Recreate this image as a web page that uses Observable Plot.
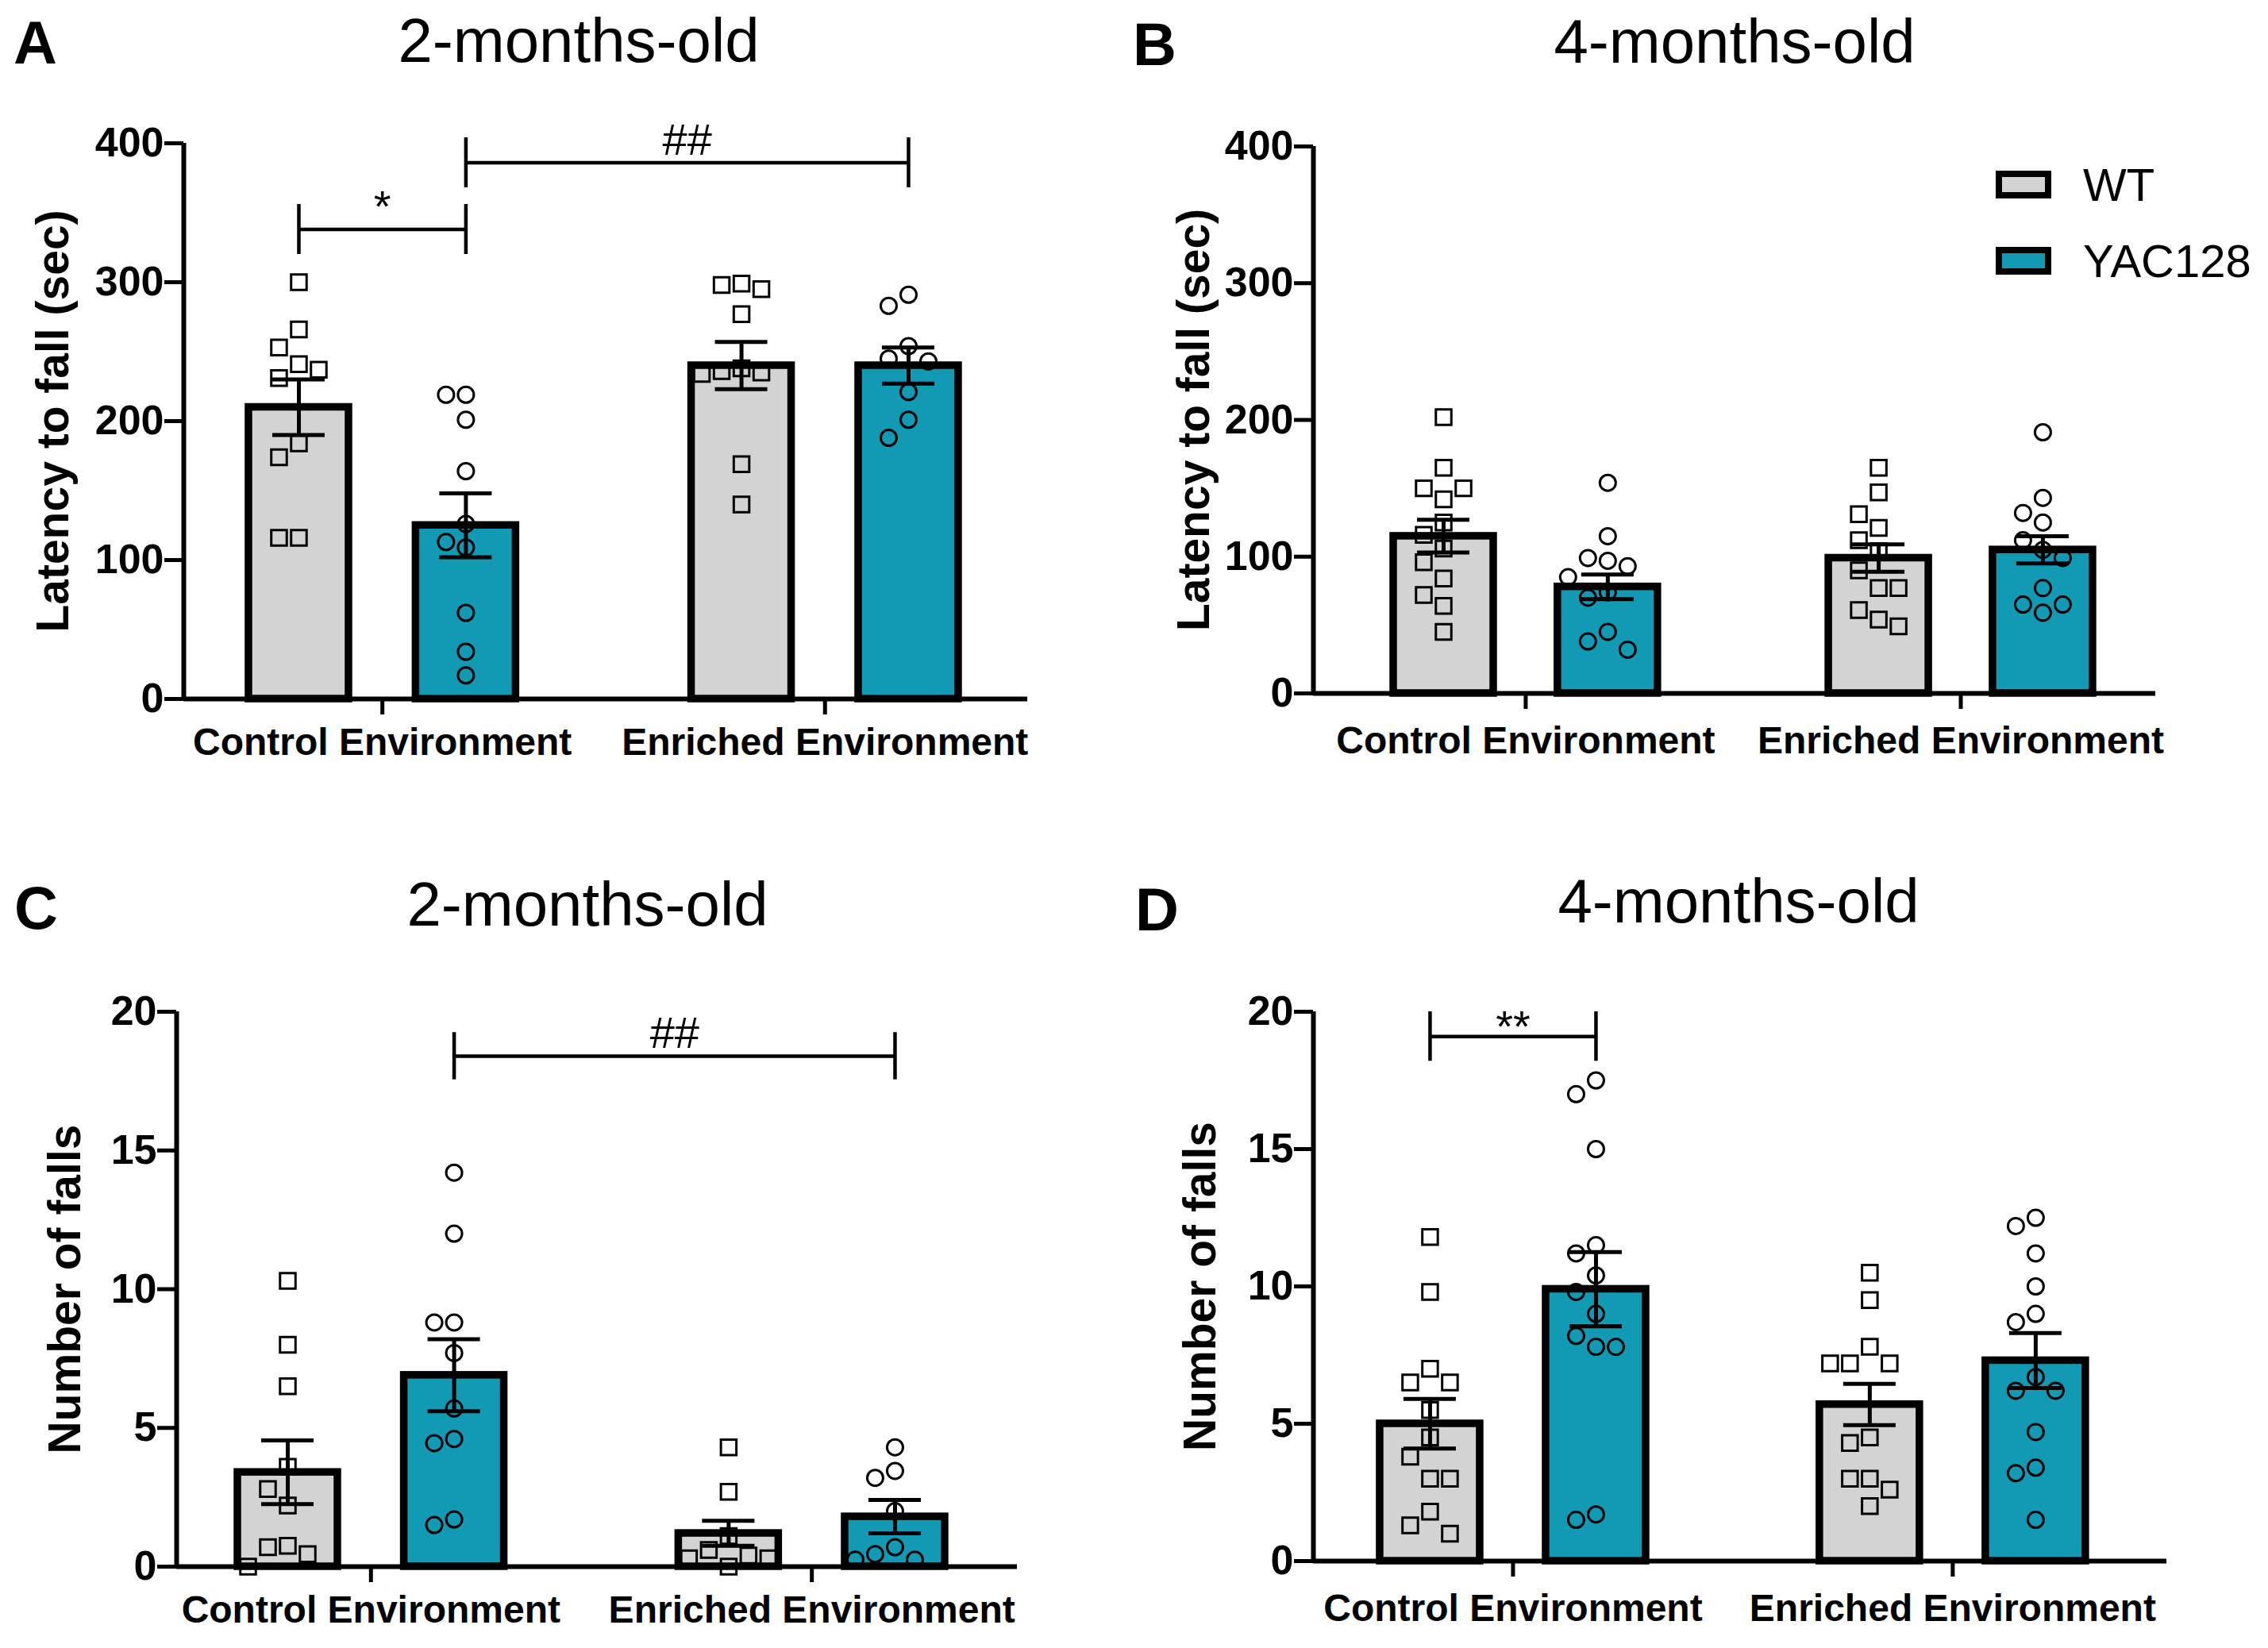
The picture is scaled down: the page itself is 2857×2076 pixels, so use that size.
<!DOCTYPE html>
<html>
<head>
<meta charset="utf-8">
<script src="https://cdn.jsdelivr.net/npm/d3@7"></script>
<script src="https://cdn.jsdelivr.net/npm/@observablehq/plot@0.6"></script>
<style>
html, body { margin: 0; padding: 0; background: #fff; }
#root { position: relative; width: 2857px; height: 2076px; font-family: "Liberation Sans", Arial, sans-serif; color: #000; }
.abs { position: absolute; }
.letter { font-weight: bold; font-size: 76px; line-height: 1; }
.title { font-size: 78px; line-height: 1; transform: translateX(-50%); white-space: nowrap; }
.legbox { position: absolute; width: 54px; height: 19px; border: 8px solid #000; }
.legtxt { position: absolute; font-size: 58px; line-height: 1; white-space: nowrap; }
</style>
</head>
<body>
<div id="root"></div>
<script>
// ---------- data ----------
const groups = ["Control Environment", "Enriched Environment"];
const genotypes = ["WT", "YAC128"];
const genotypeColors = ["#d3d3d3", "#129ab4"];

// Panel A: latency to fall (sec), 2-months-old
const aWtCtrl = [300, 266, 253, 241, 237, 231, 184, 174, 116, 116];
const aYacCtrl = [219, 219, 201, 164, 126, 113, 109, 62, 34, 17];
const aWtEnr = [299, 298, 295, 277, 238, 236, 235, 234, 169, 140];
const aYacEnr = [291, 283, 254, 245, 243, 221, 201, 188];
const aMean = [210, 125, 240, 240];
const aSem = [20, 23, 17, 13];
const aBrackets = [
  {from: 0, to: 1, y: 338, label: "*"},
  {from: 1, to: 3, y: 386, label: "##"}
];

// Panel B: latency to fall (sec), 4-months-old
const bWtCtrl = [202, 165, 150, 150, 142, 125, 116, 106, 96, 84, 72, 64, 45];
const bYacCtrl = [154, 115, 99, 97, 93, 85, 74, 70, 45, 38, 32];
const bWtEnr = [165, 147, 131, 121, 112, 104, 90, 77, 77, 61, 54, 49];
const bYacEnr = [191, 143, 132, 125, 112, 105, 99, 77, 65, 65, 59];
const bMean = [115, 78, 99, 105];
const bSem = [12, 9, 10, 10];
const bBrackets = [];

// Panel C: number of falls, 2-months-old
const cWtCtrl = [10.3, 8.0, 6.5, 3.6, 2.8, 2.2, 0.75, 0.7, 0.45, 0];
const cYacCtrl = [14.2, 12.0, 8.8, 8.8, 7.7, 5.7, 4.6, 4.45, 1.7, 1.5];
const cWtEnr = [4.3, 2.7, 1.1, 0.6, 0.4, 0.3, 0.3, 0];
const cYacEnr = [4.3, 3.45, 3.2, 2.0, 0.7, 0.45, 0.25, 0.25];
const cMean = [3.4, 6.9, 1.2, 1.8];
const cSem = [1.15, 1.3, 0.45, 0.6];
const cBrackets = [{from: 1, to: 3, y: 18.4, label: "##"}];

// Panel D: number of falls, 4-months-old
const dWtCtrl = [11.8, 9.8, 7.0, 6.5, 6.5, 5.5, 4.5, 3.8, 3.0, 3.0, 1.8, 1.3, 1.0];
const dYacCtrl = [17.5, 17.0, 15.0, 11.5, 11.2, 10.4, 9.8, 9.0, 8.2, 7.8, 7.8, 1.7, 1.5];
const dWtEnr = [10.5, 9.5, 7.8, 7.2, 7.2, 7.2, 4.5, 4.3, 3.0, 3.0, 2.6, 2.0];
const dYacEnr = [12.5, 12.2, 11.2, 10.0, 9.0, 8.7, 6.7, 6.2, 6.2, 4.7, 3.4, 3.2, 1.5];
const dMean = [5.0, 9.9, 5.7, 7.3];
const dSem = [0.9, 1.35, 0.75, 1.0];
const dBrackets = [{from: 0, to: 1, y: 19.1, label: "**"}];

const latencyTicks = [0, 100, 200, 300, 400];
const fallsTicks = [0, 5, 10, 15, 20];

// ---------- drawing ----------
const G = 2.65; // position of the second group (in bar slots)
const FONT = "'Liberation Sans', Arial, Helvetica, sans-serif";

function buildPanel(o) {
  const innerW = o.width - o.ml - o.mr;
  const innerH = o.height - o.mt - o.mb;
  const kx = innerW / (o.xDomain[1] - o.xDomain[0]);
  const ky = innerH / o.yMax;
  const slots = [0, 1, G, G + 1];
  const hw = 63 / kx, cw = 33 / kx;
  const bars = o.means.map((m, i) => ({s: slots[i], mean: m, sem: o.sems[i], kind: genotypes[i % 2]}));
  const dots = [];
  o.points.forEach((arr, i) => {
    const placed = [];
    [...arr].sort((a, b) => b - a).forEach(v => {
      let off = 0;
      for (const c of [0, -1, 1, -2, 2, -3, 3, -4, 4]) {
        if (placed.every(p => p.off !== c || Math.abs(p.v - v) * ky >= 29)) { off = c; break; }
      }
      placed.push({v, off});
      dots.push({x: slots[i] + off * 25 / kx, y: v, kind: genotypes[i % 2]});
    });
  });
  const groupCenters = [0.5, G + 0.5];
  const tickLabel = new Map(groupCenters.map((c, i) => [c, groups[i]]));
  const half = o.bracketHalf;
  const svg = Plot.plot({
    width: o.width, height: o.height,
    marginLeft: o.ml, marginRight: o.mr, marginTop: o.mt, marginBottom: o.mb,
    style: `font-family: ${FONT}; background: transparent; overflow: visible;`,
    x: {domain: o.xDomain, axis: null},
    y: {domain: [0, o.yMax], axis: null},
    color: {domain: genotypes, range: genotypeColors},
    marks: [
      Plot.rectY(bars, {x1: d => d.s - hw, x2: d => d.s + hw, y1: 0, y2: "mean", fill: "kind", stroke: "black", strokeWidth: 9.5}),
      Plot.dot(dots.filter(d => d.kind === "WT"), {x: "x", y: "y", symbol: "square", r: 11, fill: "none", stroke: "black", strokeWidth: 3}),
      Plot.dot(dots.filter(d => d.kind !== "WT"), {x: "x", y: "y", symbol: "circle", r: 10, fill: "none", stroke: "black", strokeWidth: 3}),
      Plot.ruleX(bars, {x: "s", y1: d => d.mean - d.sem, y2: d => d.mean + d.sem, stroke: "black", strokeWidth: 5}),
      Plot.ruleY(bars, {y: d => d.mean + d.sem, x1: d => d.s - cw, x2: d => d.s + cw, stroke: "black", strokeWidth: 5}),
      Plot.ruleY(bars, {y: d => d.mean - d.sem, x1: d => d.s - cw, x2: d => d.s + cw, stroke: "black", strokeWidth: 5}),
      // significance brackets
      Plot.ruleY(o.brackets, {y: "y", x1: d => slots[d.from], x2: d => slots[d.to], stroke: "black", strokeWidth: 4.5}),
      Plot.ruleX(o.brackets, {x: d => slots[d.from], y1: d => d.y - half, y2: d => d.y + half, stroke: "black", strokeWidth: 4.5}),
      Plot.ruleX(o.brackets, {x: d => slots[d.to], y1: d => d.y - half, y2: d => d.y + half, stroke: "black", strokeWidth: 4.5}),
      Plot.text(o.brackets, {x: d => (slots[d.from] + slots[d.to]) / 2, y: "y", text: "label", lineAnchor: "bottom", dy: o.labelDy, fontSize: 56}),
      // axes
      Plot.ruleY([0], {stroke: "black", strokeWidth: 6}),
      Plot.ruleX([o.xDomain[0]], {y1: 0, y2: o.yMax, stroke: "black", strokeWidth: 6}),
      Plot.axisY({ticks: o.yTicks, tickSize: 24, tickPadding: 1, fontSize: 52, fontWeight: "bold", strokeWidth: 5, label: null}),
      Plot.axisX({ticks: groupCenters, tickFormat: d => tickLabel.get(d), tickSize: 20, tickPadding: o.xPad, fontSize: 48, fontWeight: "bold", strokeWidth: 5, label: null}),
      Plot.text([o.yLabel], {frameAnchor: "left", textAnchor: "middle", lineAnchor: "middle", rotate: -90, dx: -o.labelOffset, fontSize: 57, fontWeight: "bold"})
    ]
  });
  const wrap = document.createElement("div");
  wrap.className = "abs";
  wrap.style.left = o.left + "px";
  wrap.style.top = o.top + "px";
  wrap.style.width = o.width + "px";
  wrap.style.height = o.height + "px";
  wrap.appendChild(svg);
  return wrap;
}

const root = document.getElementById("root");

root.appendChild(buildPanel({
  left: 0, top: 100, width: 1320, height: 900, ml: 231, mr: 26, mt: 80, mb: 120, xPad: 16, labelDy: -10,
  xDomain: [-0.689, 4.363], yMax: 400, yTicks: latencyTicks, yLabel: "Latency to fall (sec)", labelOffset: 164,
  points: [aWtCtrl, aYacCtrl, aWtEnr, aYacEnr], means: aMean, sems: aSem, brackets: aBrackets, bracketHalf: 18
}));
root.appendChild(buildPanel({
  left: 1420, top: 100, width: 1437, height: 900, ml: 234, mr: 142, mt: 84, mb: 127, xPad: 21, labelDy: -10,
  xDomain: [-0.793, 4.337], yMax: 400, yTicks: latencyTicks, yLabel: "Latency to fall (sec)", labelOffset: 150,
  points: [bWtCtrl, bYacCtrl, bWtEnr, bYacEnr], means: bMean, sems: bSem, brackets: bBrackets, bracketHalf: 18
}));
root.appendChild(buildPanel({
  left: 0, top: 1180, width: 1320, height: 896, ml: 222, mr: 39, mt: 94, mb: 103, xPad: 16, labelDy: -10,
  xDomain: [-0.668, 4.385], yMax: 20, yTicks: fallsTicks, yLabel: "Number of falls", labelOffset: 140,
  points: [cWtCtrl, cYacCtrl, cWtEnr, cYacEnr], means: cMean, sems: cSem, brackets: cBrackets, bracketHalf: 0.85
}));
root.appendChild(buildPanel({
  left: 1420, top: 1180, width: 1437, height: 896, ml: 234, mr: 128, mt: 94, mb: 110, xPad: 21, labelDy: 6,
  xDomain: [-0.703, 4.44], yMax: 20, yTicks: fallsTicks, yLabel: "Number of falls", labelOffset: 142,
  points: [dWtCtrl, dYacCtrl, dWtEnr, dYacEnr], means: dMean, sems: dSem, brackets: dBrackets, bracketHalf: 0.9
}));

// panel letters and titles
const texts = [
  {cls: "letter", t: "A", left: 17, top: 16},
  {cls: "letter", t: "B", left: 1427, top: 18},
  {cls: "letter", t: "C", left: 18, top: 1106},
  {cls: "letter", t: "D", left: 1430, top: 1108},
  {cls: "title", t: "2-months-old", left: 729, top: 12},
  {cls: "title", t: "4-months-old", left: 2185, top: 13},
  {cls: "title", t: "2-months-old", left: 740, top: 1100},
  {cls: "title", t: "4-months-old", left: 2190, top: 1096}
];
for (const d of texts) {
  const el = document.createElement("div");
  el.className = "abs " + d.cls;
  el.textContent = d.t;
  el.style.left = d.left + "px";
  el.style.top = d.top + "px";
  root.appendChild(el);
}

// legend
genotypes.forEach((g, i) => {
  const box = document.createElement("div");
  box.className = "legbox";
  box.style.left = "2514px";
  box.style.top = (215 + i * 96) + "px";
  box.style.background = genotypeColors[i];
  root.appendChild(box);
  const tx = document.createElement("div");
  tx.className = "legtxt";
  tx.textContent = g;
  tx.style.left = "2624px";
  tx.style.top = (204 + i * 96) + "px";
  root.appendChild(tx);
});
</script>
</body>
</html>
